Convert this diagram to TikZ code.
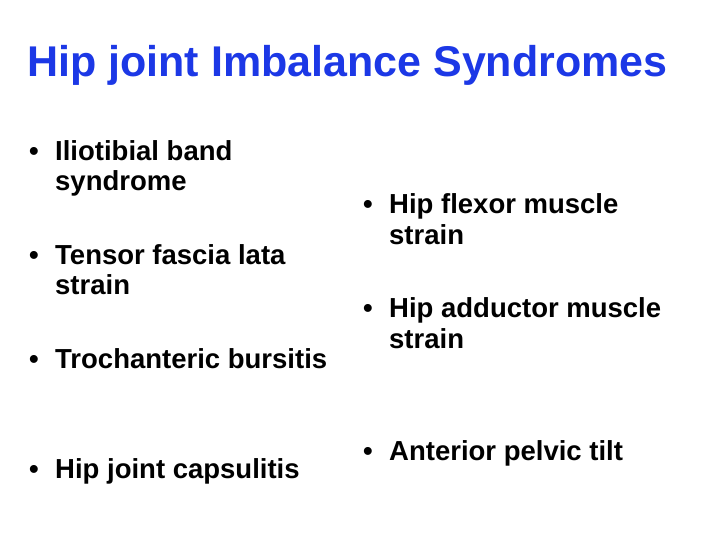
\documentclass[tikz,border=0pt]{standalone}
\usepackage{fontspec}
\setmainfont{Liberation Sans}
\definecolor{ttl}{RGB}{28,56,230}
\begin{document}
\begin{tikzpicture}[x=1pt,y=-1pt,
  txt/.style={anchor=base west,inner sep=0pt,font=\fontsize{27.5}{30}\bfseries\selectfont},
  ttlst/.style={anchor=base west,inner sep=0pt,font=\fontsize{43}{48}\bfseries\selectfont,text=ttl}]
\useasboundingbox[fill=white] (0,0) rectangle (720,540);
\node[ttlst] (t) at (27,77) {Hip joint Imbalance Syndromes};
\foreach \n/\y/\s in {a/161/{Iliotibial band},b/264/{Tensor fascia lata},c/368/{Trochanteric bursitis},d/478/{Hip joint capsulitis}}{
  \node[txt] (b\n) at (29,\y) {•};
  \node[txt] (\n) at (55,\y) {\s};}
\node[txt] (a2) at (55,191) {syndrome};
\node[txt] (b2) at (55,294) {strain};
\foreach \n/\y/\s in {e/214/{Hip flexor muscle},f/317/{Hip adductor muscle},g/460/{Anterior pelvic tilt}}{
  \node[txt] (b\n) at (363,\y) {•};
  \node[txt] (\n) at (389,\y) {\s};}
\node[txt] (e2) at (389,244) {strain};
\node[txt] (f2) at (389,348) {strain};
\end{tikzpicture}
\end{document}
